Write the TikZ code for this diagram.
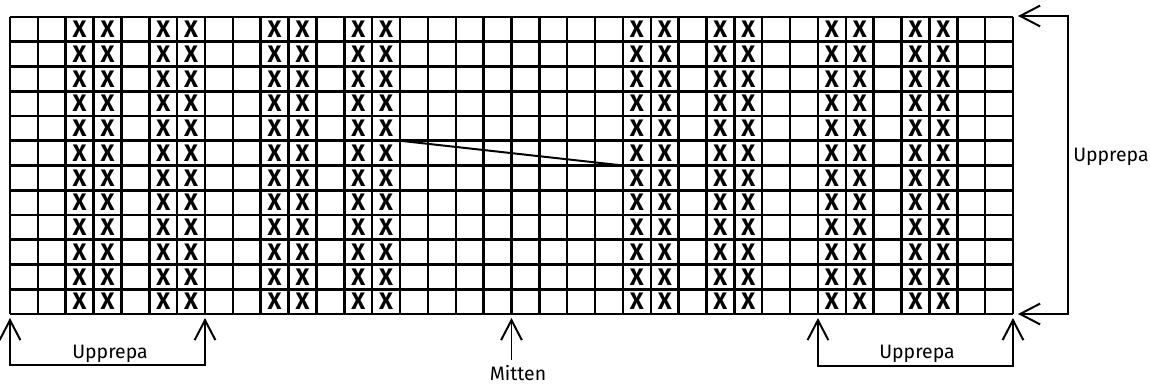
\documentclass[tikz,border=0pt]{standalone}
\usepackage{fontspec}
\setmainfont{Fira Sans}
\usetikzlibrary{arrows.meta, positioning, calc}

\begin{document}
\begin{tikzpicture}[x=0.025cm, y=-0.025cm,
    gridline/.style={line width=1.8pt},
    crossmark/.style={font=\bfseries\fontsize{17}{17}\selectfont, inner sep=0pt},
    repeatarrow/.style={line width=1.4pt, {Straight Barb[length=5mm, width=5.2mm, line width=1.4pt]}-{Straight Barb[length=5mm, width=5.2mm, line width=1.4pt]}},
    midarrow/.style={line width=1.4pt, -{Straight Barb[length=5mm, width=5.2mm, line width=1.4pt]}},
    lbl/.style={font=\fontsize{13.8}{13.8}\selectfont, inner sep=0pt}]
    \useasboundingbox (0,0) rectangle (1150,385);
    \def\cw{27.86}
    \def\ch{24.75}

    % Rutnät 36 x 12
    \foreach \i in {0,...,36} {
        \coordinate (t\i) at ({10+\i*\cw},17);
        \coordinate (b\i) at ({10+\i*\cw},314);
        \draw[gridline] (t\i) -- (b\i);
    }
    \foreach \j in {0,...,12}
        \draw[gridline] (10,{17+\j*\ch}) -- (1013,{17+\j*\ch});

    % Kryss
    \foreach \c in {3,4,6,7,10,11,13,14,23,24,26,27,30,31,33,34}
        \foreach \r in {1,...,12}
            \node[crossmark] (x-\c-\r) at ({10+(\c-0.5)*\cw},{17+(\r-0.5)*\ch}) {X};

    % Sned linje
    \coordinate (s1) at ({10+14*\cw},{17+5*\ch});
    \coordinate (s2) at ({10+22*\cw},{17+6*\ch});
    \draw[line width=1.4pt] (s1) -- (s2);

    % Upprepa vänster
    \draw[repeatarrow] ($(b0)+(0,4)$) -- ($(b0)+(0,51)$) -| ($(b7)+(0,4)$);
    \node[lbl, anchor=base] (rep1) at (110,359) {Upprepa};

    % Mitten
    \draw[midarrow] ($(b18)+(0,46)$) -- ($(b18)+(0,4)$);
    \node[lbl, anchor=base] (mid) at (518,381) {Mitten};

    % Upprepa höger
    \draw[repeatarrow] ($(b29)+(0,4)$) -- ($(b29)+(0,52)$) -| ($(b36)+(0,4)$);
    \node[lbl, anchor=base] (rep2) at (917,359) {Upprepa};

    % Upprepa rader
    \draw[repeatarrow] ($(t36)+(5,-1)$) -- (1068,16) -- (1068,314) -- ($(b36)+(5,0)$);
    \node[lbl, anchor=west] (rep3) at (1073,157) {Upprepa};
\end{tikzpicture}
\end{document}
